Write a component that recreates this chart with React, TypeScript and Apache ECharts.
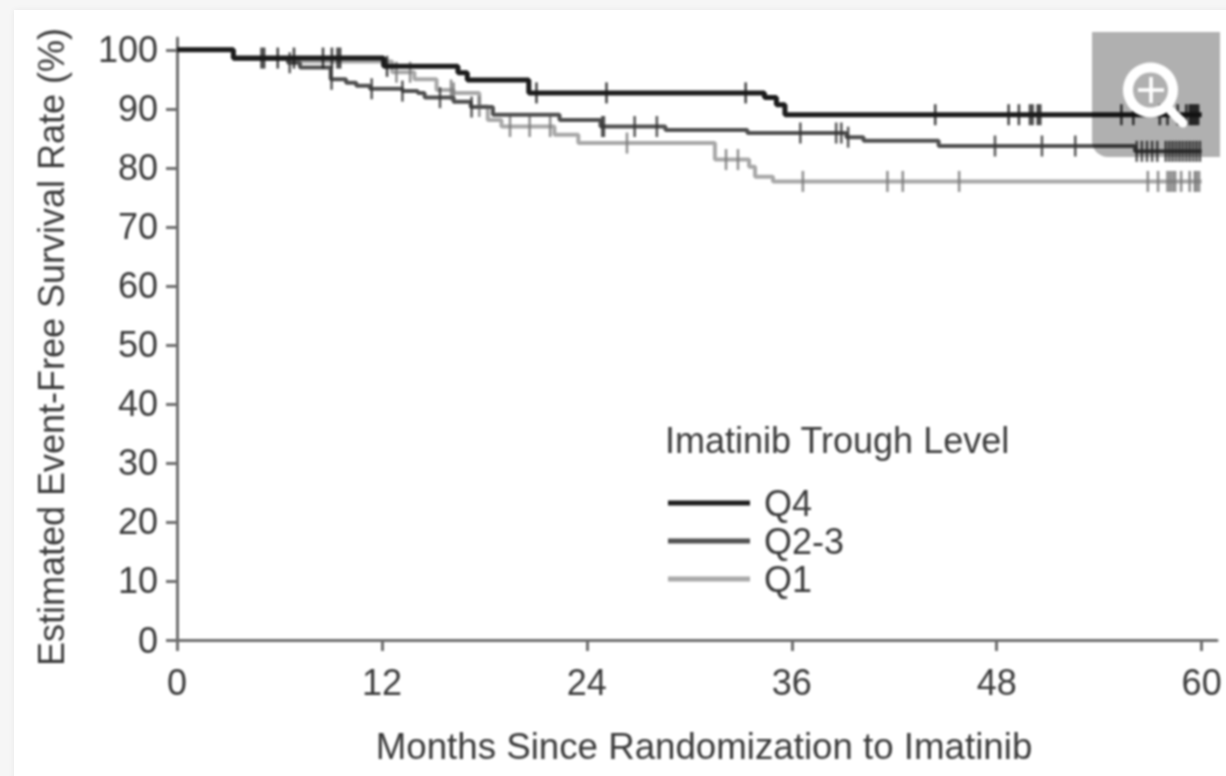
import React, { useEffect, useRef } from "react";
import * as echarts from "echarts";

const FONT = '"Liberation Sans", Arial, sans-serif';
const xTicks = [0, 12, 24, 36, 48, 60];
const yTicks = [0, 10, 20, 30, 40, 50, 60, 70, 80, 90, 100];

const q4Curve: number[][] = [
  [0, 100], [3.3, 98.6], [12.1, 97.2], [16.45, 96.1], [17, 94.9], [20.6, 92.7],
  [34.4, 91.9], [35.1, 90.7], [35.6, 89], [60, 89],
];
const q23Curve: number[][] = [
  [0, 100], [3.3, 98.5], [6.5, 97.8], [7.2, 97], [9, 95], [9.9, 94.4], [10.5, 93.9],
  [11.3, 93.4], [12.6, 93.4], [13.2, 93], [14.1, 92.7], [14.5, 91.9], [16.2, 91.2],
  [17.2, 90.3], [18.5, 89], [22.4, 88.1], [24.8, 87], [28.6, 86.4], [33.4, 85.9],
  [39.2, 85.2], [40.2, 84.6], [44.6, 83.7], [56.1, 82.8], [60, 82.8],
];
const q1Curve: number[][] = [
  [0, 100], [3.3, 98.5], [7, 98], [12.6, 96.2], [13.9, 95], [15.2, 93.2], [16.2, 92.7],
  [17.7, 90.4], [18.2, 88.1], [19, 87], [22.1, 85.6], [23.5, 84.2], [31.5, 81.4],
  [33.5, 80.2], [33.85, 78.5], [34.9, 77.7], [60, 77.7],
];

const q4Censored = [
  4.95, 5.1, 5.9, 6.85, 8.55, 9.07, 9.4, 9.55, 12.3, 21.05, 25.15, 33.3, 44.4, 48.7, 49.3,
  49.95, 50.1, 50.4, 50.55, 55.3, 56, 57.55, 58, 58.6, 59.1, 59.3, 59.4, 59.5, 59.6, 59.7, 59.8,
];
const q23Censored = [
  6.6, 9.05, 11.4, 13.2, 15.4, 17.25, 24.9, 25, 26.8, 28.1, 36.5, 38.6, 38.9, 39.3, 47.9, 50.65,
  52.6, 56.2, 56.5, 56.8, 57.1, 57.4, 57.9, 58.1, 58.3, 58.5, 58.7, 58.9, 59.1, 59.3, 59.5, 59.7, 59.9,
];
const q1Censored = [
  12.85, 13.65, 16.05, 16.2, 17.7, 19.5, 20.65, 21.85, 26.35, 32.15, 32.85, 36.65, 41.6, 42.5, 45.8,
  56.85, 57.45, 58, 58.15, 58.3, 58.45, 58.8, 59.3, 59.6, 59.7, 59.85,
];

const C4 = "#1c1c1c";
const C23 = "#505050";
const C1 = "#a8a8a8";
const TEXT = "#3a3a3a";
const LEGEND_ICON = "path://M0,0H82V5H0Z";

const rateAt = (curve: number[][], month: number) => {
  let r = curve[0][1];
  for (const [m, v] of curve) if (m <= month) r = v;
  return r;
};

const lineSeries = (name: string, data: number[][], color: string, width: number, z: number) => ({
  type: "line",
  name,
  data,
  step: "end",
  showSymbol: false,
  symbol: "none",
  z,
  lineStyle: { color, width },
  itemStyle: { color },
});

const tickSeries = (name: string, curve: number[][], months: number[], color: string, z: number) => ({
  type: "scatter",
  name,
  data: months.map((m) => [m, rateAt(curve, m)]),
  symbol: "rect",
  symbolSize: [2.6, 21],
  silent: true,
  z,
  itemStyle: { color },
});

export default function App() {
  const ref = useRef<HTMLDivElement>(null);
  useEffect(() => {
    const chart = echarts.init(ref.current!, null, { renderer: "svg" });
    const overlayZ = 100;
    chart.setOption({
      animation: false,
      backgroundColor: "transparent",
      grid: { left: 177, top: 38, width: 1040, height: 602 },
      xAxis: {
        type: "value",
        min: 0,
        max: 60.9,
        splitLine: { show: false },
        name: "Months Since Randomization to Imatinib",
        nameLocation: "middle",
        nameGap: 88,
        nameTextStyle: { fontFamily: FONT, fontSize: 36.7, color: TEXT, padding: [0, 0, 0, 14] },
        axisLine: { lineStyle: { color: "#6e6e6e", width: 3 } },
        axisTick: { length: 11, customValues: xTicks, lineStyle: { color: "#6e6e6e", width: 3 } },
        axisLabel: {
          customValues: xTicks,
          margin: 24,
          fontFamily: FONT,
          fontSize: 36,
          color: TEXT,
          hideOverlap: false,
        },
      },
      yAxis: {
        type: "value",
        min: 0,
        max: 102,
        splitLine: { show: false },
        name: "Estimated Event-Free Survival Rate (%)",
        nameLocation: "middle",
        nameGap: 108,
        nameTextStyle: { fontFamily: FONT, fontSize: 36, color: TEXT, padding: [0, 16, 0, 0] },
        axisLine: { onZero: false, lineStyle: { color: "#6e6e6e", width: 3 } },
        axisTick: { length: 11, customValues: yTicks, lineStyle: { color: "#6e6e6e", width: 3 } },
        axisLabel: {
          customValues: yTicks,
          margin: 19,
          fontFamily: FONT,
          fontSize: 36,
          color: TEXT,
        },
      },
      legend: {
        orient: "vertical",
        left: 663,
        top: 480,
        itemWidth: 82,
        itemHeight: 14,
        itemGap: 2,
        selectedMode: false,
        data: [
          { name: "Q4", itemStyle: { color: C4 }, icon: LEGEND_ICON },
          { name: "Q2-3", itemStyle: { color: C23 }, icon: LEGEND_ICON },
          { name: "Q1", itemStyle: { color: C1 }, icon: LEGEND_ICON },
        ],
        textStyle: { fontFamily: FONT, fontSize: 36, color: TEXT, padding: [0, 0, 0, 9] },
      },
      series: [
        lineSeries("Q1", q1Curve, C1, 4, 2),
        tickSeries("Q1 censored", q1Curve, q1Censored, "#777777", 3),
        lineSeries("Q2-3", q23Curve, C23, 4, 4),
        tickSeries("Q2-3 censored", q23Curve, q23Censored, "#333333", 5),
        lineSeries("Q4", q4Curve, C4, 5, 6),
        tickSeries("Q4 censored", q4Curve, q4Censored, "#1c1c1c", 7),
      ],
      graphic: [
        {
          type: "text",
          x: 665,
          y: 422,
          style: { text: "Imatinib Trough Level", fontFamily: FONT, fontSize: 36, fill: TEXT },
        },
        {
          type: "rect",
          z: overlayZ,
          shape: { x: 1092, y: 32, width: 128, height: 125, r: [0, 0, 0, 16] },
          style: { fill: "rgba(0,0,0,0.31)" },
        },
        {
          type: "ring",
          z: overlayZ + 1,
          shape: { cx: 1150.5, cy: 90, r: 27.5, r0: 17.5 },
          style: { fill: "#ffffff" },
        },
        {
          type: "line",
          z: overlayZ + 1,
          shape: { x1: 1171, y1: 111, x2: 1183, y2: 123 },
          style: { stroke: "#ffffff", lineWidth: 9, lineCap: "round" },
        },
        {
          type: "rect",
          z: overlayZ + 1,
          shape: { x: 1138, y: 88.2, width: 26, height: 3.6 },
          style: { fill: "#ffffff" },
        },
        {
          type: "rect",
          z: overlayZ + 1,
          shape: { x: 1149.2, y: 77, width: 3.6, height: 26 },
          style: { fill: "#ffffff" },
        },
      ],
    });
    return () => chart.dispose();
  }, []);

  return (
    <div style={{ position: "fixed", left: 0, top: 0, width: 1226, height: 776, background: "#f6f6f6", overflow: "hidden" }}>
      <div
        style={{
          position: "absolute",
          left: 14,
          top: 10,
          width: 1240,
          height: 800,
          background: "#ffffff",
          boxShadow: "0 0 6px rgba(0,0,0,0.06)",
        }}
      />
      <div ref={ref} style={{ position: "absolute", left: 0, top: 0, width: 1226, height: 776, filter: "blur(1px)" }} />
    </div>
  );
}
